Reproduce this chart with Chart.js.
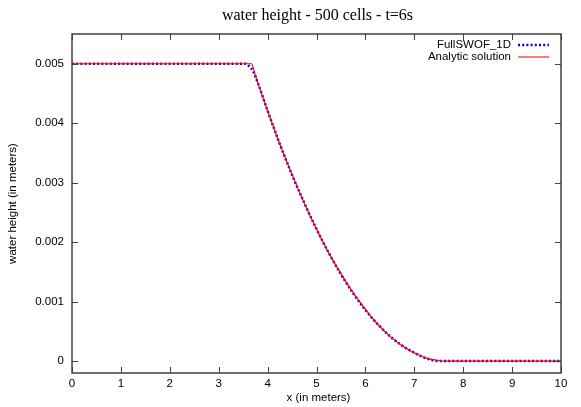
<!DOCTYPE html>
<html>
<head>
<meta charset="utf-8">
<script src="https://cdn.jsdelivr.net/npm/chart.js@4"></script>
<style>
  html, body { margin: 0; padding: 0; background: #fff; }
  #wrap { width: 581px; height: 407px; }
</style>
</head>
<body>
<div id="wrap"><canvas id="chart" width="581" height="407"></canvas></div>
<script>
// --- data ---
const numX = [0, 3.55, 3.62, 3.7, 3.8, 4.0, 4.25, 4.5, 4.75, 5.0, 5.25, 5.5, 5.75, 6.0, 6.25, 6.5, 6.75, 7.0, 7.2, 7.35, 7.5, 7.7, 10];
const numH = [0.005, 0.005, 0.00496, 0.00488, 0.00468, 0.00421, 0.00365, 0.00313, 0.00266, 0.00222, 0.00182, 0.00146, 0.00114, 0.00086, 0.00062, 0.00042, 0.00026, 0.00014, 0.00006, 0.00002, 0.0000, 0.0, 0.0];

const anaX = [0, 3.67, 3.75, 4.0, 4.25, 4.5, 4.75, 5.0, 5.25, 5.5, 5.75, 6.0, 6.25, 6.5, 6.75, 7.0, 7.25, 7.5, 7.66, 10];
const anaH = [0.005, 0.005, 0.0048, 0.00421, 0.00365, 0.00314, 0.00266, 0.00222, 0.00182, 0.00147, 0.00115, 0.00087, 0.00062, 0.00042, 0.00026, 0.00014, 0.00005, 0.00001, 0, 0];

const xTicks = [0, 1, 2, 3, 4, 5, 6, 7, 8, 9, 10];
const yTicks = [0, 0.001, 0.002, 0.003, 0.004, 0.005];
const yTickLabels = ["0", "0.001", "0.002", "0.003", "0.004", "0.005"];

const toPoints = (xs, ys) => xs.map((x, i) => ({ x: x, y: ys[i] }));

const sans = "'Liberation Sans', Arial, sans-serif";
const borderColor = "#404040";

// --- gnuplot look: box, inward ticks, title, axis titles, legend ---
const gnuplotFrame = {
  id: "gnuplotFrame",
  afterDraw(chart) {
    const { ctx, chartArea: a, scales } = chart;
    ctx.save();
    ctx.strokeStyle = borderColor;
    ctx.lineWidth = 1.5;
    ctx.strokeRect(a.left, a.top, a.right - a.left, a.bottom - a.top);

    ctx.lineWidth = 1;
    ctx.beginPath();
    xTicks.forEach(v => {
      const px = Math.round(scales.x.getPixelForValue(v)) + 0.5;
      ctx.moveTo(px, a.bottom); ctx.lineTo(px, a.bottom - 6);
      ctx.moveTo(px, a.top); ctx.lineTo(px, a.top + 6);
    });
    yTicks.forEach(v => {
      const py = Math.round(scales.y.getPixelForValue(v)) + 0.5;
      ctx.moveTo(a.left, py); ctx.lineTo(a.left + 6, py);
      ctx.moveTo(a.right, py); ctx.lineTo(a.right - 6, py);
    });
    ctx.stroke();

    // title
    ctx.fillStyle = "#000";
    ctx.font = "16px 'Liberation Serif', 'Times New Roman', serif";
    ctx.textAlign = "center";
    ctx.textBaseline = "middle";
    ctx.fillText("water height - 500 cells - t=6s", (a.left + a.right) / 2 + 1, 16);

    // axis titles
    ctx.font = "11.5px " + sans;
    ctx.fillText("x (in meters)", (a.left + a.right) / 2 + 2, 398);
    ctx.save();
    ctx.translate(13, (a.top + a.bottom) / 2);
    ctx.rotate(-Math.PI / 2);
    ctx.fillText("water height (in meters)", 0, 0);
    ctx.restore();

    // legend
    ctx.textAlign = "right";
    ctx.fillText("FullSWOF_1D", 511, 45);
    ctx.fillText("Analytic solution", 511, 57);
    ctx.lineWidth = 2.5;
    ctx.strokeStyle = "#0000ff";
    ctx.setLineDash([2, 2.2]);
    ctx.beginPath(); ctx.moveTo(518, 45); ctx.lineTo(549, 45); ctx.stroke();
    ctx.setLineDash([]);
    ctx.lineWidth = 1.3;
    ctx.strokeStyle = "#ff3030";
    ctx.beginPath(); ctx.moveTo(518, 57); ctx.lineTo(549, 57); ctx.stroke();
    ctx.restore();
  }
};

const ctx = document.getElementById("chart").getContext("2d");

const chart = new Chart(ctx, {
  type: "line",
  data: {
    datasets: [
      {
        label: "Analytic solution",
        data: toPoints(anaX, anaH),
        borderColor: "#ff0000",
        borderWidth: 1.2,
        pointRadius: 0,
        cubicInterpolationMode: "monotone",
        fill: false,
        order: 0
      },
      {
        label: "FullSWOF_1D",
        data: toPoints(numX, numH),
        borderColor: "#0000ff",
        borderWidth: 2.5,
        borderDash: [2, 2.2],
        pointRadius: 0,
        cubicInterpolationMode: "monotone",
        fill: false,
        order: 1
      }
    ]
  },
  options: {
    responsive: false,
    animation: false,
    layout: { padding: { left: 0, right: 20, top: 34, bottom: 0 } },
    plugins: {
      legend: { display: false },
      title: { display: false },
      tooltip: { enabled: false }
    },
    scales: {
      x: {
        type: "linear",
        min: 0,
        max: 10,
        afterBuildTicks: s => { s.ticks = xTicks.map(v => ({ value: v })); },
        afterFit: s => { s.height = 34; },
        grid: { display: false, drawTicks: false },
        border: { display: false },
        ticks: {
          color: "#000",
          font: { family: sans, size: 11.5 },
          padding: 4,
          maxRotation: 0,
          autoSkip: false,
          callback: v => String(v)
        }
      },
      y: {
        type: "linear",
        min: -0.0002,
        max: 0.0055,
        afterBuildTicks: s => { s.ticks = yTicks.map(v => ({ value: v })); },
        afterFit: s => { s.width = 72; },
        grid: { display: false, drawTicks: false },
        border: { display: false },
        ticks: {
          color: "#000",
          font: { family: sans, size: 11.5 },
          padding: 8,
          autoSkip: false,
          callback: (v, i) => yTickLabels[i]
        }
      }
    }
  },
  plugins: [gnuplotFrame]
});
</script>
</body>
</html>
